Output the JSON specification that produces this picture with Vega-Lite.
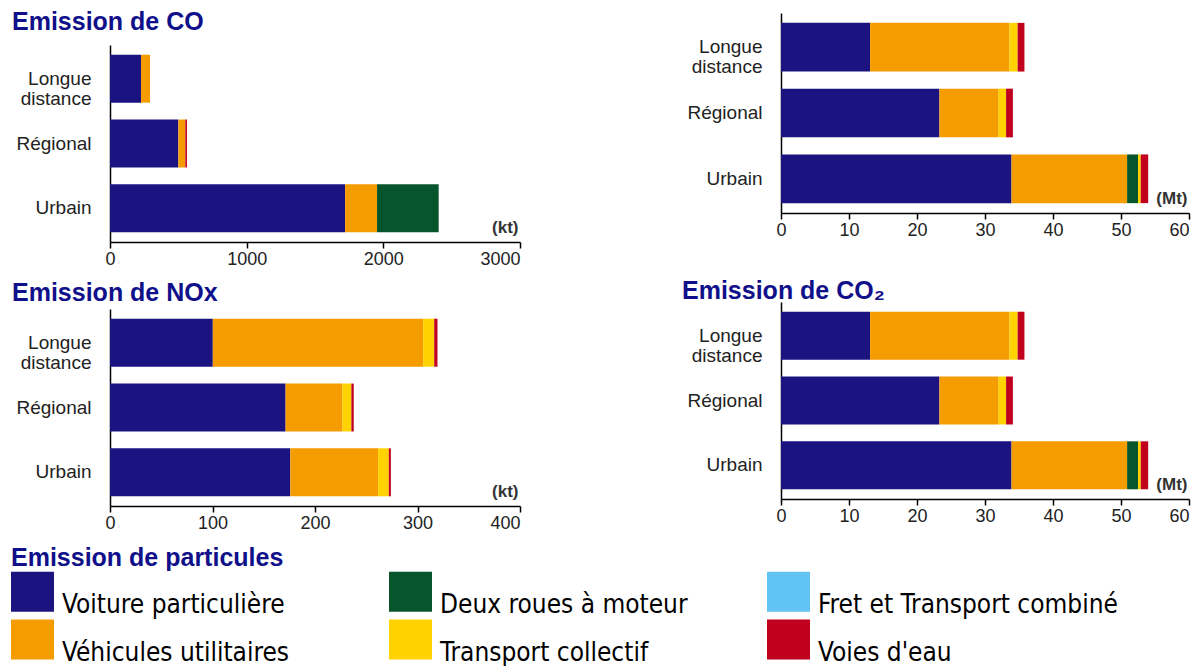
{
  "$schema": "https://vega.github.io/schema/vega-lite/v6.json",
  "padding": {"left": 11, "top": 10, "right": 5, "bottom": 0},
  "background": "white",
  "datasets": {
    "emissions": [
      {"polluant": "CO", "zone": "Longue distance", "type": "Voiture particulière", "valeur": 227},
      {"polluant": "CO", "zone": "Longue distance", "type": "Véhicules utilitaires", "valeur": 66},
      {"polluant": "CO", "zone": "Régional", "type": "Voiture particulière", "valeur": 500},
      {"polluant": "CO", "zone": "Régional", "type": "Véhicules utilitaires", "valeur": 51},
      {"polluant": "CO", "zone": "Régional", "type": "Voies d'eau", "valeur": 12},
      {"polluant": "CO", "zone": "Urbain", "type": "Voiture particulière", "valeur": 1720},
      {"polluant": "CO", "zone": "Urbain", "type": "Véhicules utilitaires", "valeur": 234},
      {"polluant": "CO", "zone": "Urbain", "type": "Deux roues à moteur", "valeur": 451},
      {"polluant": "NOx", "zone": "Longue distance", "type": "Voiture particulière", "valeur": 100.3},
      {"polluant": "NOx", "zone": "Longue distance", "type": "Véhicules utilitaires", "valeur": 205.2},
      {"polluant": "NOx", "zone": "Longue distance", "type": "Transport collectif", "valeur": 10.8},
      {"polluant": "NOx", "zone": "Longue distance", "type": "Voies d'eau", "valeur": 3.2},
      {"polluant": "NOx", "zone": "Régional", "type": "Voiture particulière", "valeur": 171.3},
      {"polluant": "NOx", "zone": "Régional", "type": "Véhicules utilitaires", "valeur": 55.4},
      {"polluant": "NOx", "zone": "Régional", "type": "Transport collectif", "valeur": 8.8},
      {"polluant": "NOx", "zone": "Régional", "type": "Voies d'eau", "valeur": 2.3},
      {"polluant": "NOx", "zone": "Urbain", "type": "Voiture particulière", "valeur": 175.9},
      {"polluant": "NOx", "zone": "Urbain", "type": "Véhicules utilitaires", "valeur": 85.7},
      {"polluant": "NOx", "zone": "Urbain", "type": "Transport collectif", "valeur": 10.4},
      {"polluant": "NOx", "zone": "Urbain", "type": "Voies d'eau", "valeur": 2.0},
      {"polluant": "CO2", "zone": "Longue distance", "type": "Voiture particulière", "valeur": 13.1},
      {"polluant": "CO2", "zone": "Longue distance", "type": "Véhicules utilitaires", "valeur": 20.5},
      {"polluant": "CO2", "zone": "Longue distance", "type": "Transport collectif", "valeur": 1.2},
      {"polluant": "CO2", "zone": "Longue distance", "type": "Voies d'eau", "valeur": 1.0},
      {"polluant": "CO2", "zone": "Régional", "type": "Voiture particulière", "valeur": 23.3},
      {"polluant": "CO2", "zone": "Régional", "type": "Véhicules utilitaires", "valeur": 8.7},
      {"polluant": "CO2", "zone": "Régional", "type": "Transport collectif", "valeur": 1.1},
      {"polluant": "CO2", "zone": "Régional", "type": "Voies d'eau", "valeur": 1.0},
      {"polluant": "CO2", "zone": "Urbain", "type": "Voiture particulière", "valeur": 33.9},
      {"polluant": "CO2", "zone": "Urbain", "type": "Véhicules utilitaires", "valeur": 17.0},
      {"polluant": "CO2", "zone": "Urbain", "type": "Deux roues à moteur", "valeur": 1.6},
      {"polluant": "CO2", "zone": "Urbain", "type": "Transport collectif", "valeur": 0.4},
      {"polluant": "CO2", "zone": "Urbain", "type": "Voies d'eau", "valeur": 1.1}
    ],
    "categories": [
      {"type": "Voiture particulière", "ordre": 1},
      {"type": "Véhicules utilitaires", "ordre": 2},
      {"type": "Deux roues à moteur", "ordre": 3},
      {"type": "Transport collectif", "ordre": 4},
      {"type": "Fret et Transport combiné", "ordre": 5},
      {"type": "Voies d'eau", "ordre": 6}
    ]
  },
  "data": {"name": "emissions"},
  "hconcat": [
    {
      "spacing": 13,
      "vconcat": [
        {
          "spacing": 10,
          "vconcat": [
            {
              "data": {"values": []},
              "title": {"text": "Emission de CO", "orient": "bottom", "offset": 0, "dy": -4, "dx": -98, "frame": "group"},
              "width": 410,
              "height": 1,
              "mark": {"type": "text"},
              "encoding": {}
            },
            {
              "width": 410,
              "height": 197,
              "transform": [
                {"filter": "datum.polluant == 'CO'"},
                {"lookup": "type", "from": {"data": {"name": "categories"}, "key": "type", "fields": ["ordre"]}}
              ],
              "mark": {"type": "bar"},
              "encoding": {
                "y": {"field": "zone", "type": "nominal", "sort": ["Longue distance", "Régional", "Urbain"], "scale": {"paddingInner": 0.26, "paddingOuter": 0.15}, "axis": {"title": null, "labelExpr": "datum.label == 'Longue distance' ? ['Longue', 'distance'] : datum.label"}},
                "x": {"field": "valeur", "type": "quantitative", "stack": "zero", "scale": {"domain": [0, 3000], "nice": false}, "axis": {"values": [0, 1000, 2000, 3000], "format": "d", "title": "(kt)", "titleX": 408}},
                "order": {"field": "ordre", "type": "quantitative"},
                "color": {
                  "field": "type", "type": "nominal",
                  "scale": {
                    "domain": ["Voiture particulière", "Véhicules utilitaires", "Deux roues à moteur", "Transport collectif", "Fret et Transport combiné", "Voies d'eau"],
                    "range": ["#1b1480", "#f59c00", "#06552c", "#ffd200", "#62c3f5", "#c0001c"]
                  },
                  "legend": {
                    "orient": "none", "legendX": -99, "legendY": 533,
                    "values": ["Voiture particulière", "Véhicules utilitaires", "Deux roues à moteur", "Transport collectif", "Fret et Transport combiné", "Voies d'eau"],
                    "columns": 3, "gridAlign": "all", "columnPadding": 27, "rowPadding": 0,
                    "symbolType": "M-1,-0.93H1V0.93H-1Z", "symbolSize": 1849, "symbolStrokeWidth": 0, "symbolOpacity": 1,
                    "labelFont": "DejaVu Sans Condensed", "labelFontSize": 26, "labelColor": "#000", "labelOffset": 8, "labelBaseline": "top", "labelLimit": 0,
                    "title": "Emission de particules", "titleFont": "Liberation Sans", "titleFontSize": 25, "titleFontWeight": "bold", "titleColor": "#10108a", "titlePadding": -1, "titleLimit": 800
                  }
                }
              }
            }
          ]
        },
        {
          "title": {"text": "Emission de NOx", "offset": 3},
          "width": 410,
          "height": 197,
          "transform": [
            {"filter": "datum.polluant == 'NOx'"},
            {"lookup": "type", "from": {"data": {"name": "categories"}, "key": "type", "fields": ["ordre"]}}
          ],
          "mark": {"type": "bar"},
          "encoding": {
            "y": {"field": "zone", "type": "nominal", "sort": ["Longue distance", "Régional", "Urbain"], "scale": {"paddingInner": 0.26, "paddingOuter": 0.15}, "axis": {"title": null, "labelExpr": "datum.label == 'Longue distance' ? ['Longue', 'distance'] : datum.label"}},
            "x": {"field": "valeur", "type": "quantitative", "stack": "zero", "scale": {"domain": [0, 400], "nice": false}, "axis": {"values": [0, 100, 200, 300, 400], "format": "d", "title": "(kt)", "titleX": 408}},
            "order": {"field": "ordre", "type": "quantitative"},
            "color": {"field": "type", "type": "nominal"}
          }
        }
      ]
    },
    {
      "spacing": 40,
      "vconcat": [
        {
          "width": 408,
          "height": 200,
          "transform": [
            {"filter": "datum.polluant == 'CO2'"},
            {"lookup": "type", "from": {"data": {"name": "categories"}, "key": "type", "fields": ["ordre"]}}
          ],
          "mark": {"type": "bar"},
          "encoding": {
            "y": {"field": "zone", "type": "nominal", "sort": ["Longue distance", "Régional", "Urbain"], "scale": {"paddingInner": 0.26, "paddingOuter": 0.15}, "axis": {"title": null, "labelExpr": "datum.label == 'Longue distance' ? ['Longue', 'distance'] : datum.label"}},
            "x": {"field": "valeur", "type": "quantitative", "stack": "zero", "scale": {"domain": [0, 60], "nice": false}, "axis": {"values": [0, 10, 20, 30, 40, 50, 60], "format": "d", "title": "(Mt)", "titleX": 406}},
            "order": {"field": "ordre", "type": "quantitative"},
            "color": {"field": "type", "type": "nominal"}
          }
        },
        {
          "title": {"text": "Emission de CO₂", "offset": -2, "dx": -5},
          "width": 408,
          "height": 197,
          "transform": [
            {"filter": "datum.polluant == 'CO2'"},
            {"lookup": "type", "from": {"data": {"name": "categories"}, "key": "type", "fields": ["ordre"]}}
          ],
          "mark": {"type": "bar"},
          "encoding": {
            "y": {"field": "zone", "type": "nominal", "sort": ["Longue distance", "Régional", "Urbain"], "scale": {"paddingInner": 0.26, "paddingOuter": 0.15}, "axis": {"title": null, "labelExpr": "datum.label == 'Longue distance' ? ['Longue', 'distance'] : datum.label"}},
            "x": {"field": "valeur", "type": "quantitative", "stack": "zero", "scale": {"domain": [0, 60], "nice": false}, "axis": {"values": [0, 10, 20, 30, 40, 50, 60], "format": "d", "title": "(Mt)", "titleX": 406}},
            "order": {"field": "ordre", "type": "quantitative"},
            "color": {"field": "type", "type": "nominal"}
          }
        }
      ]
    }
  ],
  "spacing": 161,
  "resolve": {"scale": {"x": "independent", "y": "independent"}},
  "config": {
    "view": {"stroke": null},
    "bar": {"stroke": null},
    "title": {"font": "Liberation Sans", "fontSize": 25, "fontWeight": "bold", "color": "#10108a", "anchor": "start", "frame": "bounds", "dx": -4},
    "axis": {"grid": false, "domainColor": "#000", "domainWidth": 1.5, "labelFont": "Liberation Sans", "labelColor": "#222", "titleFont": "Liberation Sans"},
    "axisY": {"ticks": false, "labelFontSize": 19, "labelPadding": 19, "labelLineHeight": 20},
    "axisX": {"ticks": true, "tickSize": 6, "tickColor": "#000", "tickWidth": 1.5, "labelFontSize": 18, "labelPadding": 2,
      "labelAlign": {"condition": {"test": "datum.index == 1", "value": "right"}, "value": "center"},
      "titleFontSize": 17, "titleFontWeight": "bold", "titleColor": "#333", "titleAlign": "right", "titleBaseline": "bottom", "titleY": -6, "titleAnchor": "end"}
  }
}
